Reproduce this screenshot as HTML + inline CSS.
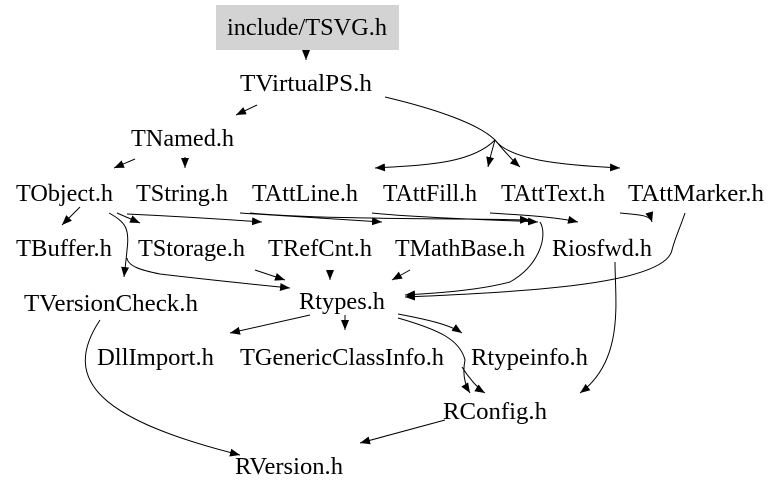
<!DOCTYPE html>
<html><head><meta charset="utf-8"><style>body{margin:0;background:#fff}svg{display:block}</style></head><body>
<svg width="779" height="492" viewBox="0 0 779 492" xmlns="http://www.w3.org/2000/svg">
<defs><marker id="a" viewBox="0 0 10 10" refX="10" refY="5" markerWidth="10" markerHeight="10" orient="auto" markerUnits="userSpaceOnUse"><path d="M0,1 L10,5 L0,9 z" fill="#000"/></marker></defs>
<rect x="216" y="5" width="183" height="45" fill="#d3d3d3"/>
<g font-family="Liberation Serif, serif" font-size="24" fill="#000">
<text x="227" y="35" textLength="160" lengthAdjust="spacingAndGlyphs">include/TSVG.h</text>
<text x="240" y="91" textLength="132" lengthAdjust="spacingAndGlyphs">TVirtualPS.h</text>
<text x="131" y="146" textLength="103" lengthAdjust="spacingAndGlyphs">TNamed.h</text>
<text x="16" y="201" textLength="97" lengthAdjust="spacingAndGlyphs">TObject.h</text>
<text x="136" y="201" textLength="92" lengthAdjust="spacingAndGlyphs">TString.h</text>
<text x="252" y="201" textLength="106" lengthAdjust="spacingAndGlyphs">TAttLine.h</text>
<text x="383" y="201" textLength="94" lengthAdjust="spacingAndGlyphs">TAttFill.h</text>
<text x="501" y="201" textLength="104" lengthAdjust="spacingAndGlyphs">TAttText.h</text>
<text x="628" y="201" textLength="136" lengthAdjust="spacingAndGlyphs">TAttMarker.h</text>
<text x="16" y="256" textLength="96" lengthAdjust="spacingAndGlyphs">TBuffer.h</text>
<text x="138" y="256" textLength="107" lengthAdjust="spacingAndGlyphs">TStorage.h</text>
<text x="268" y="256" textLength="104" lengthAdjust="spacingAndGlyphs">TRefCnt.h</text>
<text x="395" y="256" textLength="130" lengthAdjust="spacingAndGlyphs">TMathBase.h</text>
<text x="552" y="256" textLength="100" lengthAdjust="spacingAndGlyphs">Riosfwd.h</text>
<text x="24" y="311" textLength="174" lengthAdjust="spacingAndGlyphs">TVersionCheck.h</text>
<text x="299" y="309" textLength="86" lengthAdjust="spacingAndGlyphs">Rtypes.h</text>
<text x="97" y="365" textLength="117" lengthAdjust="spacingAndGlyphs">DllImport.h</text>
<text x="240" y="365" textLength="204" lengthAdjust="spacingAndGlyphs">TGenericClassInfo.h</text>
<text x="471" y="365" textLength="117" lengthAdjust="spacingAndGlyphs">Rtypeinfo.h</text>
<text x="443" y="419" textLength="104" lengthAdjust="spacingAndGlyphs">RConfig.h</text>
<text x="235" y="474" textLength="108" lengthAdjust="spacingAndGlyphs">RVersion.h</text>
</g>
<g fill="none" stroke="#000" stroke-width="1" marker-end="url(#a)">
<path d="M306,50 L306,60"/>
<path d="M257,105 L236,115"/>
<path d="M385,97 C440,110 480,125 495,140 C492,150 490,158 488,167"/>
<path d="M495,140 C470,165 420,165 375,168"/>
<path d="M495,140 C505,152 512,160 520,167"/>
<path d="M495,140 C510,160 560,165 620,168"/>
<path d="M135,159 L114,168"/>
<path d="M185,157 L185,168"/>
<path d="M80,207 L62,225"/>
<path d="M109,213 C125,222 130,228 127,250 C126,262 125,268 124,277"/>
<path d="M127,258 C128,266 140,270 160,274 C210,280 250,284 290,288"/>
<path d="M117,213 L140,223"/>
<path d="M127,214 C170,216 220,219 262,222"/>
<path d="M240,213 C290,216 340,219 382,222"/>
<path d="M372,213 C420,218 500,220 538,222"/>
<path d="M250,213 C330,220 450,218 530,220"/>
<path d="M490,213 C540,216 560,218 578,222"/>
<path d="M620,213 C640,215 650,215 652,222"/>
<path d="M540,222 C548,235 540,265 510,282 C480,290 440,293 405,295"/>
<path d="M685,213 C680,228 675,238 672,250 C665,285 520,292 405,297"/>
<path d="M255,270 L285,280"/>
<path d="M330,270 L330,280"/>
<path d="M410,270 L392,280"/>
<path d="M310,315 L230,333"/>
<path d="M345,315 L345,330"/>
<path d="M398,314 C430,320 450,325 462,333"/>
<path d="M398,318 C440,330 460,340 465,360 C462,375 465,385 470,393"/>
<path d="M462,367 C470,380 480,390 485,393"/>
<path d="M615,262 C615,300 625,360 580,393"/>
<path d="M100,320 C60,380 100,420 240,455"/>
<path d="M445,420 L360,443"/>
</g>
</svg>
</body></html>
